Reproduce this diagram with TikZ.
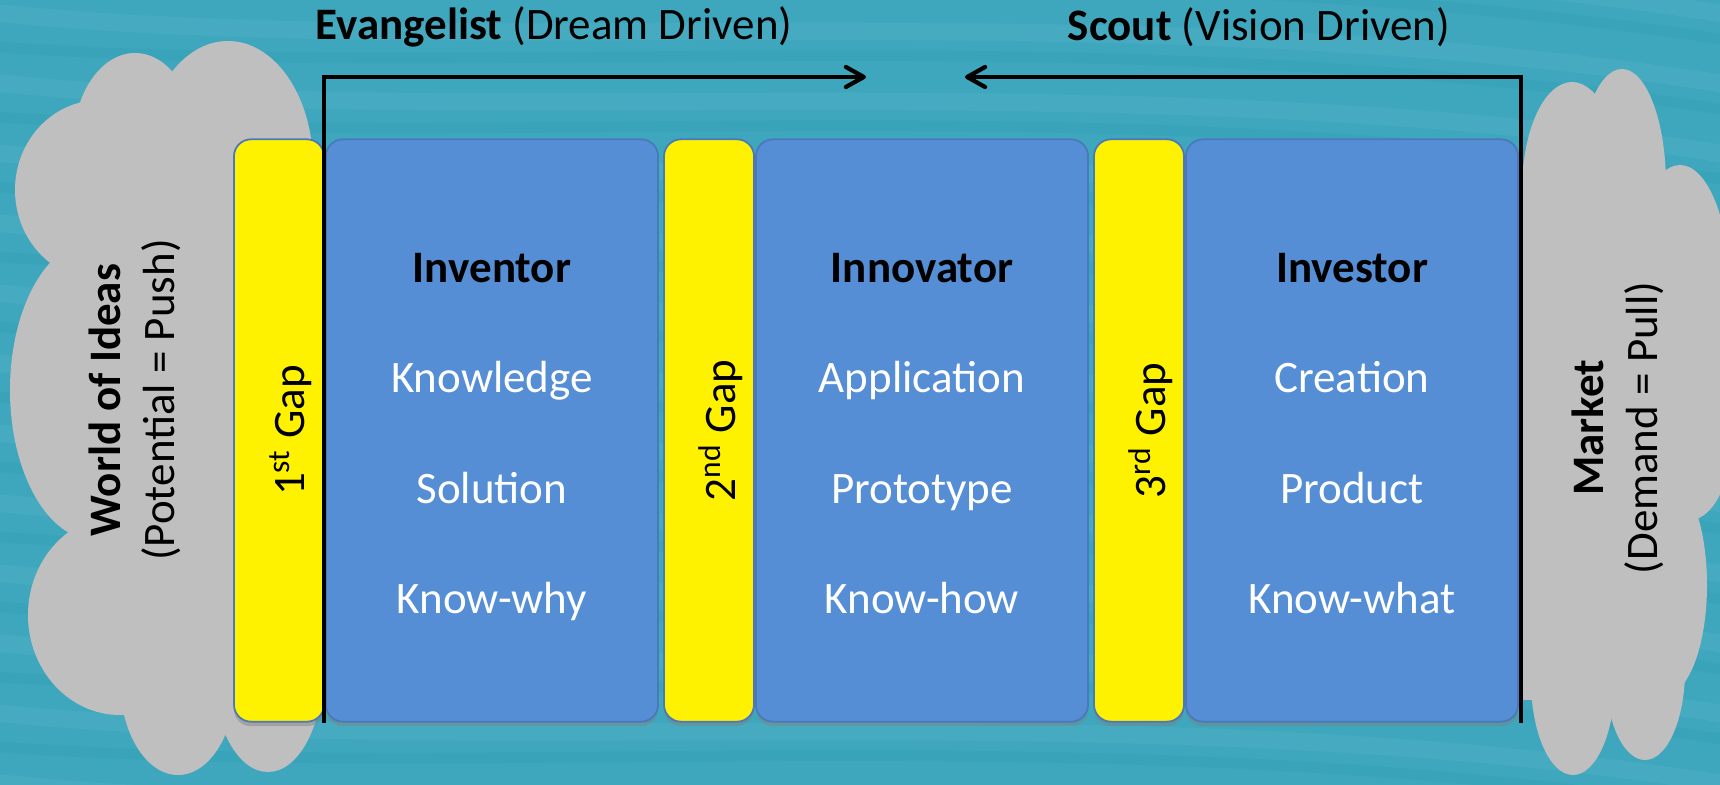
\documentclass[tikz,border=0pt]{standalone}
\usepackage{fontspec}
\setmainfont{Carlito}
\usetikzlibrary{arrows.meta, shadows, positioning}

\definecolor{seateal}{RGB}{62,167,189}
\definecolor{wavelight}{RGB}{120,200,214}
\definecolor{wavedark}{RGB}{28,140,166}
\definecolor{boxblue}{RGB}{85,142,213}
\definecolor{boxline}{RGB}{74,120,186}
\definecolor{cloudgray}{RGB}{191,191,191}

\tikzset{
  txt/.style={font=\fontsize{12.8}{15.4}\selectfont, inner sep=0pt},
  stagebox/.style={draw=boxline, fill=boxblue, line width=0.5pt, rounded corners=0.17cm,
    minimum width=3.32cm, minimum height=5.82cm,
    drop shadow={shadow xshift=0pt, shadow yshift=-1.3pt, opacity=0.45}},
  gapbar/.style={stagebox, fill=yellow, minimum width=0.9cm},
  stagetitle/.style={txt, font=\fontsize{12.8}{15.4}\selectfont\bfseries, anchor=base},
  stageitem/.style={txt, text=white, anchor=base},
  gaplabel/.style={txt, rotate=90},
  cloudlabel/.style={txt, rotate=90, align=center},
  flow/.style={line width=1.2pt, -{Straight Barb[length=1.8mm, width=2mm, round]}},
  wave/.style={line width=5pt, opacity=0.14},
}

\begin{document}
\begin{tikzpicture}[x=0.01cm, y=-0.01cm]
  \useasboundingbox (0,0) rectangle (1720,785);

  % water background
  \fill[seateal] (0,0) rectangle (1720,785);
  \begin{scope}
    \clip (0,0) rectangle (1720,785);
    \foreach \yy in {-60,10,...,840}
      \draw[wave, wavelight] (-30,\yy) .. controls (450,\yy+55) and (1150,\yy-25) .. (1760,\yy+80);
    \foreach \yy in {-25,45,...,875}
      \draw[wave, wavedark, line width=3pt] (-30,\yy) .. controls (500,\yy+40) and (1100,\yy-35) .. (1760,\yy+70);
  \end{scope}

  % left cloud
  \fill[cloudgray] (100,150) rectangle (315,700);
  \fill[cloudgray] (135,145) ellipse (62 and 92);
  \fill[cloudgray] (228,165) ellipse (85 and 124);
  \fill[cloudgray] (100,190) ellipse (85 and 90);
  \fill[cloudgray] (95,390) ellipse (85 and 150);
  \fill[cloudgray] (120,615) ellipse (92 and 100);
  \fill[cloudgray] (178,680) ellipse (58 and 95);
  \fill[cloudgray] (268,670) ellipse (55 and 102);

  % right cloud
  \fill[cloudgray] (1500,180) rectangle (1660,700);
  \fill[cloudgray] (1572,190) ellipse (50 and 108);
  \fill[cloudgray] (1622,185) ellipse (44 and 116);
  \fill[cloudgray] (1680,290) ellipse (50 and 125);
  \fill[cloudgray] (1690,420) ellipse (45 and 100);
  \fill[cloudgray] (1665,585) ellipse (42 and 110);
  \fill[cloudgray] (1645,670) ellipse (40 and 90);
  \fill[cloudgray] (1573,680) ellipse (42 and 95);

  % gaps
  \foreach \n/\cx/\lbl in {g1/279/1\textsuperscript{st} Gap, g2/709/2\textsuperscript{nd} Gap, g3/1139/3\textsuperscript{rd} Gap} {
    \node[gapbar] (\n) at (\cx,430.5) {};
    \node[gaplabel] (\n-label) at ([xshift=0.12cm]\n.center) {\lbl};
  }

  % stages
  \foreach \n/\cx/\who/\a/\b/\c in {inv/492/Inventor/Knowledge/Solution/Know-why,
      inn/922/Innovator/Application/Prototype/Know-how,
      ins/1352/Investor/Creation/Product/Know-what} {
    \node[stagebox] (\n) at (\cx,430.5) {};
    \node[stagetitle] (\n-title) at ([yshift=1.475cm]\n.center) {\who};
    \node[stageitem] (\n-a) at ([yshift=0.375cm]\n.center) {\a};
    \node[stageitem] (\n-b) at ([yshift=-0.725cm]\n.center) {\b};
    \node[stageitem] (\n-c) at ([yshift=-1.825cm]\n.center) {\c};
  }

  % push and pull
  \node[txt] (evtitle) at (554,27) {\textbf{Evangelist} (Dream Driven)};
  \node[txt] (sctitle) at (1259,27) {\textbf{Scout} (Vision Driven)};
  \coordinate (evtip) at (866,77);
  \coordinate (sctip) at (965,77);
  \draw[flow] ([xshift=-0.3pt]inv.south west) |- (evtip);
  \draw[flow] ([xshift=0.6pt]ins.south east) |- (sctip);

  % cloud labels
  \node[cloudlabel] (ideas) at (135,400) {\textbf{World of Ideas}\\(Potential = Push)};
  \node[cloudlabel] (market) at (1618,428) {\textbf{Market}\\(Demand = Pull)};
\end{tikzpicture}
\end{document}
